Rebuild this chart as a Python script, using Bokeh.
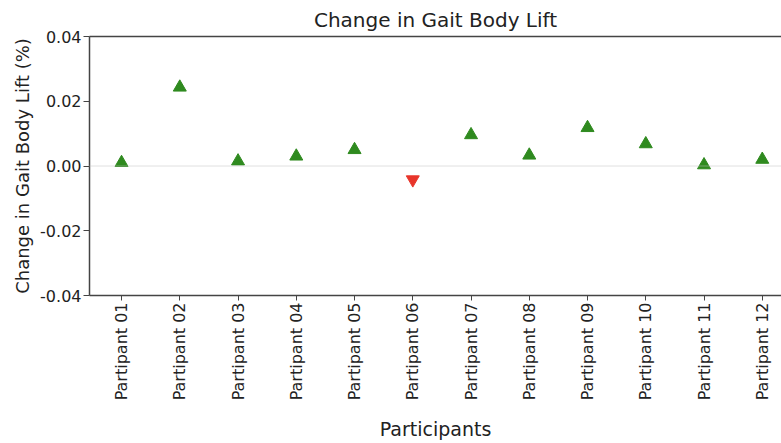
import math
from bokeh.plotting import figure
from bokeh.models import FixedTicker, Span, LinearAxis, Range1d
from bokeh.embed import file_html
from bokeh.resources import INLINE

participants = ["Partipant 01", "Partipant 02", "Partipant 03", "Partipant 04",
                "Partipant 05", "Partipant 06", "Partipant 07", "Partipant 08",
                "Partipant 09", "Partipant 10", "Partipant 11", "Partipant 12"]
change = [0.001, 0.0243, 0.0015, 0.003, 0.005, -0.0042, 0.0096, 0.0033,
          0.0118, 0.0068, 0.0003, 0.002]
y_ticks = [-0.04, -0.02, 0.0, 0.02, 0.04]

FONT = "DejaVu Sans"
GREEN = "#2f8a1f"
RED = "#e8352a"

pos = list(range(1, len(participants) + 1))
up_x = [p for p, v in zip(pos, change) if v >= 0]
up_y = [v for v in change if v >= 0]
dn_x = [p for p, v in zip(pos, change) if v < 0]
dn_y = [v for v in change if v < 0]

p = figure(width=781, height=443, output_backend="svg", toolbar_location=None,
           x_range=Range1d(0.45, 12.33), y_range=Range1d(-0.04, 0.04),
           title="Change in Gait Body Lift",
           min_border_left=89, min_border_right=0, min_border_top=31,
           min_border_bottom=10)

p.title.align = "center"
p.title.text_font = FONT
p.title.text_font_size = "20px"
p.title.text_font_style = "normal"
p.title.text_color = "#222222"

p.xgrid.visible = False
p.ygrid.visible = False
p.outline_line_color = None

p.add_layout(Span(location=0, dimension="width", line_color="#c0c0c0",
                  line_dash="1 1", line_width=1))

p.scatter(up_x, up_y, marker="triangle", size=13, fill_color=GREEN,
          line_color=GREEN, line_width=1)
p.scatter(dn_x, dn_y, marker="inverted_triangle", size=13, fill_color=RED,
          line_color=RED, line_width=1)

AX = "#444444"
xa = p.xaxis[0]
xa.ticker = FixedTicker(ticks=pos)
xa.major_label_overrides = {i: lab for i, lab in zip(pos, participants)}
xa.major_label_orientation = math.pi / 2
xa.minor_tick_line_color = None
xa.major_tick_out = 5
xa.major_tick_in = 0
xa.axis_line_color = AX
xa.axis_line_width = 1.5
xa.major_tick_line_color = AX
xa.major_label_text_font = FONT
xa.major_label_text_font_size = "16px"
xa.major_label_text_color = "#222222"
xa.major_label_standoff = 2
xa.axis_label = "Participants"
xa.axis_label_text_font = FONT
xa.axis_label_text_font_size = "19px"
xa.axis_label_text_font_style = "normal"
xa.axis_label_text_color = "#222222"
xa.axis_label_standoff = 15

ya = p.yaxis[0]
ya.ticker = FixedTicker(ticks=y_ticks)
ya.major_label_overrides = {t: f"{t:.2f}" for t in y_ticks}
ya.minor_tick_line_color = None
ya.major_tick_out = 6
ya.major_tick_in = 0
ya.axis_line_color = AX
ya.axis_line_width = 1.5
ya.major_tick_line_color = AX
ya.major_label_text_font = FONT
ya.major_label_text_font_size = "16px"
ya.major_label_text_color = "#222222"
ya.major_label_standoff = 2
ya.axis_label = "Change in Gait Body Lift (%)"
ya.axis_label_text_font = FONT
ya.axis_label_text_font_size = "18px"
ya.axis_label_text_font_style = "normal"
ya.axis_label_text_color = "#222222"
ya.axis_label_standoff = 4

top = LinearAxis(ticker=FixedTicker(ticks=[]), axis_line_color=AX,
                 axis_line_width=1.5, major_label_text_font_size="0px",
                 major_tick_line_color=None, minor_tick_line_color=None)
p.add_layout(top, "above")

open("out.html", "w").write(file_html(p, INLINE))
